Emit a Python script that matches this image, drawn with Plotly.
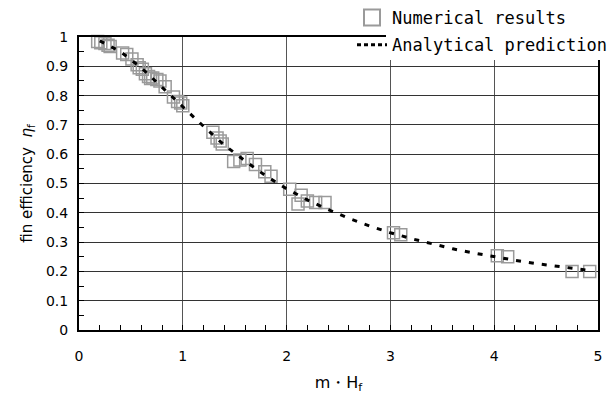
import plotly.graph_objects as go

# Numerical results
num_x = [0.18, 0.21, 0.25, 0.28, 0.30, 0.42, 0.46, 0.51, 0.56, 0.58, 0.61, 0.64, 0.67,
         0.69, 0.71, 0.75, 0.78, 0.83, 0.91, 0.95, 0.98, 1.00, 1.29, 1.33, 1.36, 1.38,
         1.49, 1.55, 1.62, 1.70, 1.79, 1.85, 2.03, 2.11, 2.14, 2.20, 2.28, 2.37,
         3.03, 3.10, 4.03, 4.13, 4.75, 4.92]
num_y = [0.985, 0.98, 0.978, 0.972, 0.968, 0.945, 0.94, 0.925, 0.905, 0.895, 0.89, 0.875, 0.865,
         0.858, 0.86, 0.855, 0.85, 0.83, 0.795, 0.78, 0.775, 0.765, 0.675, 0.655, 0.645, 0.635,
         0.575, 0.58, 0.585, 0.565, 0.54, 0.525, 0.48, 0.43, 0.46, 0.44, 0.435, 0.435,
         0.332, 0.325, 0.253, 0.25, 0.2, 0.2]

# Analytical prediction
ana_x = [0.2, 0.4, 0.6, 0.8, 1.0, 1.2, 1.4, 1.6, 1.8, 2.0, 2.2, 2.4, 2.6, 2.8, 3.0,
         3.2, 3.4, 3.6, 3.8, 4.0, 4.2, 4.4, 4.6, 4.8, 4.9]
ana_y = [0.987, 0.950, 0.895, 0.830, 0.762, 0.695, 0.631, 0.577, 0.526, 0.482, 0.444,
         0.411, 0.381, 0.355, 0.332, 0.312, 0.294, 0.277, 0.263, 0.250, 0.238, 0.227,
         0.217, 0.208, 0.204]

x_ticks = [0, 1, 2, 3, 4, 5]
y_ticks = [0, 0.1, 0.2, 0.3, 0.4, 0.5, 0.6, 0.7, 0.8, 0.9, 1]
y_ticklabels = ["0", "0.1", "0.2", "0.3", "0.4", "0.5", "0.6", "0.7", "0.8", "0.9", "1"]

SQ = "#9a9a9a"
fig = go.Figure()
fig.add_trace(go.Scatter(x=num_x, y=num_y, mode="markers", showlegend=False,
                         cliponaxis=False,
                         marker=dict(symbol="square-open", size=12, color=SQ,
                                     line=dict(width=1.5, color=SQ))))
fig.add_trace(go.Scatter(x=ana_x, y=ana_y, mode="lines", showlegend=False,
                         line=dict(color="black", width=3, dash="5px,8px")))
# legend entries
fig.add_trace(go.Scatter(x=[None], y=[None], mode="markers", name="Numerical results",
                         legendgroup="a",
                         marker=dict(symbol="square-open", size=16, color=SQ,
                                     line=dict(width=2, color=SQ))))
fig.add_trace(go.Scatter(x=[None], y=[None], mode="lines", name="Analytical prediction",
                         legendgroup="b",
                         line=dict(color="black", width=3, dash="4px,3px")))

W, H = 612, 394
L, R, T, B = 79, 14, 37, 64
pw, ph = W - L - R, H - T - B

def px2x(p):
    return (p - L) / pw

def py2y(p):
    return (H - B - p) / ph

fig.add_shape(type="rect", xref="paper", yref="paper", layer="above",
              x0=px2x(386), x1=px2x(612), y0=py2y(60), y1=py2y(0),
              fillcolor="white", line=dict(width=0))

fig.update_layout(
    width=W, height=H,
    margin=dict(l=L, r=R, t=T, b=B, autoexpand=False),
    paper_bgcolor="white", plot_bgcolor="white",
    font=dict(family="DejaVu Sans", size=14, color="black"),
    legend=dict(x=px2x(352), y=py2y(0), xanchor="left", yanchor="top",
                bgcolor="rgba(0,0,0,0)", traceorder="grouped", tracegroupgap=2,
                font=dict(family="DejaVu Sans Mono", size=17, color="black")),
    xaxis=dict(range=[0, 5], tickvals=x_ticks, showgrid=True, gridcolor="#555555",
               gridwidth=1, zeroline=False, showline=True, linecolor="black",
               linewidth=2, mirror=True, ticks="inside", ticklen=5, tickcolor="black",
               ticklabelstandoff=12,
               minor=dict(dtick=0.2, ticks="inside", ticklen=5, tickcolor="black",
                          showgrid=False),
               title=dict(text="m・H<sub>f</sub>", font=dict(size=16), standoff=16)),
    yaxis=dict(range=[0, 1], tickvals=y_ticks, ticktext=y_ticklabels, showgrid=True,
               gridcolor="#333333", gridwidth=1, zeroline=False, showline=True,
               linecolor="black", linewidth=2, mirror=True, ticks="inside", ticklen=5,
               tickcolor="black", ticklabelstandoff=6,
               minor=dict(dtick=0.05, ticks="inside", ticklen=5, tickcolor="black",
                          showgrid=False),
               title=dict(text="fin efficiency  <i>η</i><sub>f</sub>", font=dict(size=15),
                          standoff=10)),
)

fig.write_html("out.html")
